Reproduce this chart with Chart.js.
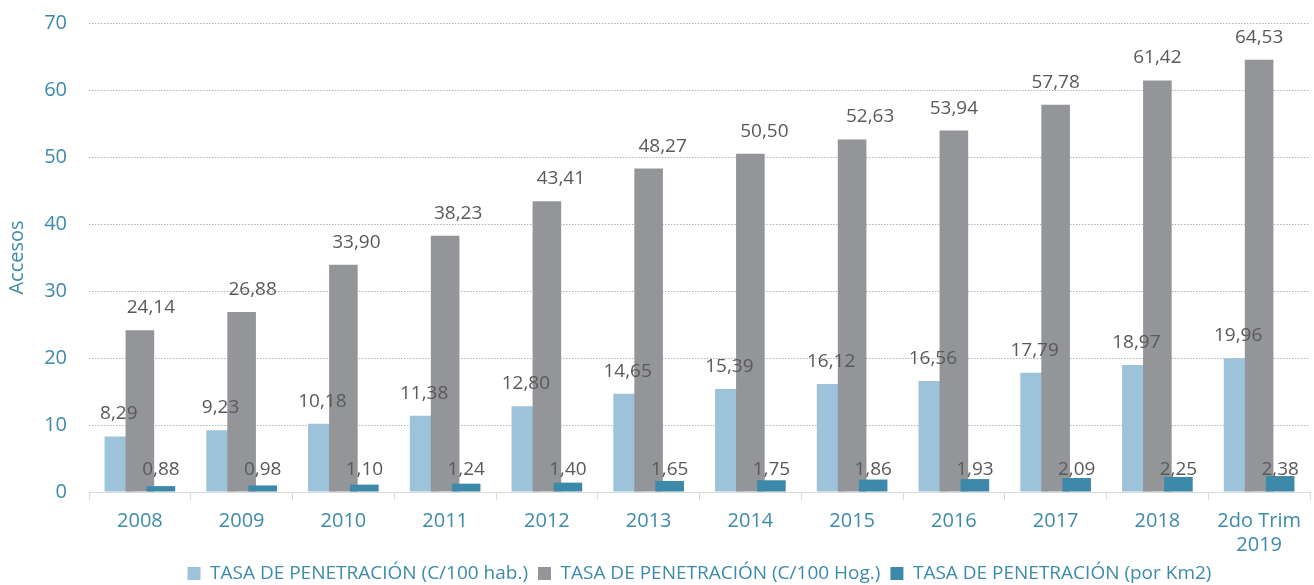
<!DOCTYPE html>
<html lang="es">
<head>
    <meta charset="UTF-8">
    <title>Tasa de penetración</title>
    <style>
        body {
            margin: 0;
            background-color: #fff;
        }
        #chartBox {
            position: relative;
            width: 1314px;
            height: 585px;
        }
    </style>
</head>
<body>
    <div id="chartBox">
        <canvas id="penetracionChart"></canvas>
    </div>

    <script src="https://cdn.jsdelivr.net/npm/chart.js"></script>
    <script>
// datos
var categorias = ['2008', '2009', '2010', '2011', '2012', '2013', '2014', '2015', '2016', '2017', '2018', ['2do Trim', '2019']];
var tasaHab = [8.29, 9.23, 10.18, 11.38, 12.80, 14.65, 15.39, 16.12, 16.56, 17.79, 18.97, 19.96];
var tasaHog = [24.14, 26.88, 33.90, 38.23, 43.41, 48.27, 50.50, 52.63, 53.94, 57.78, 61.42, 64.53];
var tasaKm2 = [0.88, 0.98, 1.10, 1.24, 1.40, 1.65, 1.75, 1.86, 1.93, 2.09, 2.25, 2.38];
var ticksY = [0, 10, 20, 30, 40, 50, 60, 70];

var azulClaro = '#9DC3DB';
var gris = '#939598';
var azulOscuro = '#3C89AA';
var textoEje = '#3C8BAC';
var fuente = '"Open Sans", "Noto Sans", sans-serif';

function formatoComa(v) {
    return v.toFixed(2).replace('.', ',');
}

// Excel dibuja la serie siguiente encima de la anterior
var ordenDibujo = {
    id: 'ordenDibujo',
    beforeDatasetsDraw: function(chart) {
        chart.getSortedVisibleDatasetMetas().forEach(function(meta) {
            meta.controller.draw();
        });
        return false;
    }
};

// etiquetas de valor sobre las barras
var etiquetasValor = {
    id: 'etiquetasValor',
    afterDraw: function(chart, args, opts) {
        var ctx = chart.ctx;
        ctx.save();
        ctx.font = '19px ' + fuente;
        ctx.fillStyle = '#595959';
        ctx.textAlign = 'center';
        ctx.textBaseline = 'alphabetic';
        chart.data.datasets.forEach(function(ds, i) {
            var meta = chart.getDatasetMeta(i);
            meta.data.forEach(function(bar, j) {
                var y = i === 2 ? bar.base : bar.y;
                var dx = i === 1 ? opts.desplazamientoGris[j] : 0;
                ctx.fillText(formatoComa(ds.data[j]), bar.x + dx, y - 17);
            });
        });
        ctx.restore();
    }
};

var ctx = document.getElementById('penetracionChart').getContext('2d');
var grafico = new Chart(ctx, {
    type: 'bar',
    data: {
        labels: categorias,
        datasets: [{
            label: 'TASA DE PENETRACIÓN (C/100 hab.)',
            data: tasaHab,
            backgroundColor: azulClaro
        }, {
            label: 'TASA DE PENETRACIÓN (C/100 Hog.)',
            data: tasaHog,
            backgroundColor: gris
        }, {
            label: 'TASA DE PENETRACIÓN (por Km2)',
            data: tasaKm2,
            backgroundColor: azulOscuro
        }]
    },
    options: {
        responsive: true,
        maintainAspectRatio: false,
        animation: false,
        datasets: {
            bar: {
                categoryPercentage: 0.62,
                barPercentage: 1.36
            }
        },
        layout: {
            padding: { top: 23, right: 4, left: 0, bottom: -8 }
        },
        scales: {
            x: {
                grid: {
                    display: true,
                    drawOnChartArea: false,
                    drawTicks: true,
                    tickLength: 8,
                    color: '#D9D9D9'
                },
                border: { display: true, color: '#D9D9D9' },
                ticks: {
                    color: textoEje,
                    padding: 9,
                    maxRotation: 0,
                    autoSkip: false,
                    font: { family: fuente, size: 20 }
                },
                afterFit: function(scale) {
                    scale.height = 62;
                }
            },
            y: {
                min: 0,
                max: 70,
                afterBuildTicks: function(scale) {
                    scale.ticks = ticksY.map(function(v) { return { value: v }; });
                },
                grid: {
                    color: '#B3B3B3',
                    drawTicks: false
                },
                border: { display: false, dash: [1.5, 1.5] },
                ticks: {
                    color: textoEje,
                    padding: 22,
                    font: { family: fuente, size: 20 }
                },
                title: {
                    display: true,
                    text: 'Accesos',
                    color: textoEje,
                    padding: { top: 5, bottom: 0 },
                    font: { family: fuente, size: 20 }
                },
                afterFit: function(scale) {
                    scale.width = 89;
                    // el padding de las etiquetas no debe empujar el area
                    scale.paddingTop = 10;
                    scale.paddingBottom = 0;
                }
            }
        },
        plugins: {
            legend: {
                position: 'bottom',
                fullSize: false,
                labels: {
                    color: textoEje,
                    boxWidth: 13,
                    boxHeight: 13,
                    padding: 10,
                    font: { family: fuente, size: 19 }
                }
            },
            tooltip: { enabled: false },
            etiquetasValor: {
                desplazamientoGris: [11, 11, 13, 13, 14, 14, 14, 18, 0, 0, 0, 0]
            }
        }
    },
    plugins: [ordenDibujo, etiquetasValor]
});
    </script>
</body>
</html>
